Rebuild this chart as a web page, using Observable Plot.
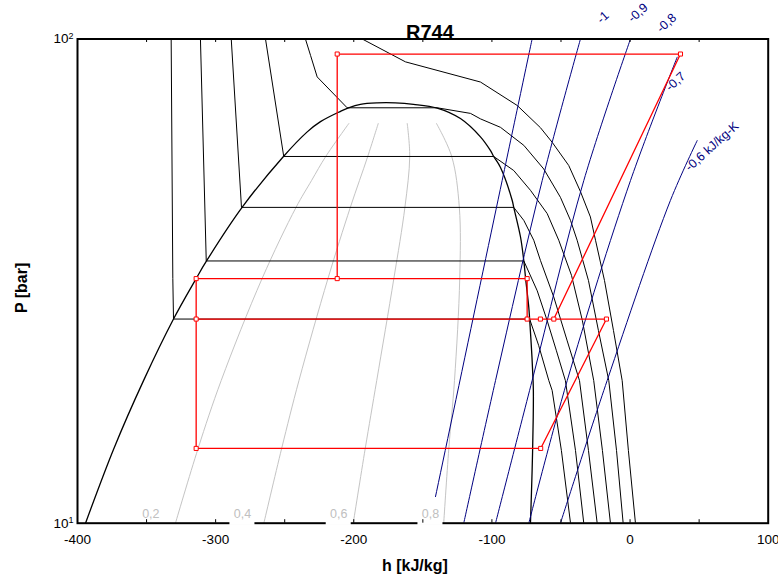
<!DOCTYPE html>
<html><head><meta charset="utf-8">
<script src="https://cdn.jsdelivr.net/npm/d3@7"></script>
<script src="https://cdn.jsdelivr.net/npm/@observablehq/plot@0.6"></script>
<style>body{margin:0;background:#fff}</style>
</head><body><div id="chart"></div>
<script>
// ---- axis ticks ----
const hTicks = [-400, -300, -200, -100, 0, 100];
const hMinorTicks = [-350, -300, -250, -200, -150, -100, -50, 0, 50];
const pTicks = [10, 100];
const pTickBase = "10";
const pTickExponents = ["1", "2"];

// ---- saturation dome [h kJ/kg, P bar] ----
const dome = [[-394.2,10],[-373.5,14.3],[-352.2,19.7],[-330.5,26.4],[-314.1,32.0],[-306.6,34.8],[-280.6,45.0],[-250.9,57.2],[-233.7,64.3],[-224.1,67.5],[-209.6,70.9],[-203.8,72.1],[-195.2,73.3],[-183,73.8],[-170,73.8],[-156.8,73.3],[-139.6,72.0],[-122.8,68.5],[-108.3,62.8],[-101.0,58.8],[-98.7,57.2],[-93.8,54.3],[-85.3,46.4],[-84.2,44.9],[-79.3,39.0],[-76.9,34.8],[-75.6,32.0],[-73.3,27.9],[-72.7,26.4],[-71.0,22.0],[-70.2,19.7],[-70.0,18.8],[-70.1,16.5],[-70.9,12.85],[-72.1,10]];

// ---- isotherms ----
const isoTempNames = ["-10", "0", "10", "20", "30", "40"];
const isoM10 = [[-332.2,100],[-331.0,32.0],[-330.5,26.4],[-72.7,26.4],[-66.2,23.3],[-58.8,19.7],[-56.4,18.8],[-49.7,14.13],[-43.1,10]];
const iso0 = [[-311.0,100],[-306.8,34.8],[-76.9,34.8],[-67.2,30.2],[-60.0,26.2],[-53.3,22.7],[-46.8,19.7],[-39.5,14.13],[-33.5,10]];
const iso10 = [[-288.7,100],[-281.3,44.9],[-84.2,44.9],[-76.9,42.2],[-69.7,38.4],[-64.9,34.9],[-55.2,29.3],[-45.5,23.8],[-36.6,19.7],[-30.1,14.13],[-23.8,10]];
const iso20 = [[-263.9,100],[-250.7,57.2],[-98.7,57.2],[-84.2,53.5],[-72.1,48.7],[-60.0,43.6],[-51.6,38.4],[-42.4,32.5],[-34.5,26.2],[-26.3,19.7],[-20.0,14.13],[-14.2,10]];
const iso30 = [[-235.0,100],[-231.3,92.5],[-226.5,83.5],[-204.8,72.1],[-139.6,72.1],[-115.5,70.2],[-108.3,68.4],[-93.8,65.7],[-76.9,60.3],[-62.5,53.9],[-50.4,47.1],[-43.1,42.2],[-38.3,38.4],[-30.1,31.7],[-22.9,25.0],[-15.4,19.7],[-9.8,14.13],[-5.0,10]];
const iso40 = [[-193.9,100],[-162.6,89.7],[-108.3,81.5],[-81.7,72.9],[-64.9,65.6],[-56.4,61.2],[-44.4,54.8],[-35.9,48.4],[-28.7,42.9],[-25.0,38.4],[-18.5,31.7],[-12.0,25.0],[-5.7,19.7],[-1.2,14.13],[3.9,10]];

// ---- quality lines ----
const qualNames = ["0.2", "0.4", "0.6", "0.8"];
const q02 = [[-203.6,66.9],[-220.3,57.2],[-230.6,51.0],[-241.8,44.9],[-266.4,32.0],[-296.0,19.7],[-312.7,14.27],[-329.1,10]];
const q04 = [[-182.3,66.9],[-189.9,57.2],[-202.5,44.9],[-218.7,32.0],[-239.7,19.7],[-252.2,14.27],[-265.1,10]];
const q06 = [[-161.3,66.9],[-159.5,57.2],[-163.0,44.9],[-171.0,32.0],[-183.4,19.7],[-191.7,14.27],[-200.4,10]];
const q08 = [[-140.1,66.9],[-129.1,57.2],[-123.6,44.9],[-123.3,32.0],[-127.1,19.7],[-131.2,14.27],[-134.9,10]];
const qualLabels = ["0,2", "0,4", "0,6", "0,8"];
const qualLabelH = [-346.9, -280.6, -210.9, -144.5];
const qualLabelP = [10.45, 10.45, 10.45, 10.45];

// ---- isentropes ----
const isenNames = ["-1", "-0.9", "-0.8", "-0.7", "-0.6"];
const sM10 = [[-144.9,10],[-92.6,51.0],[-70.9,100]];
const sM09 = [[-120.4,10],[-97.4,19.7],[-63.6,51.0],[-35.9,100]];
const sM08 = [[-97.4,10],[-70.9,19.7],[-33.5,51.0],[0.3,100]];
const sM07 = [[-73.3,10],[-45.5,19.7],[0.3,51.0],[34.1,91.7]];
const sM06 = [[-50.4,10],[-16.6,19.7],[29.2,46.4],[48.6,61.7]];
const isenLabels = ["-1", "-0,9", "-0,8", "-0,7", "-0,6 kJ/kg-K"];
const isenLabelH = [-19.6, 5.7, 26.4, 32.9, 59.3];
const isenLabelP = [110.8, 113.2, 107.9, 81.7, 60.0];

// ---- cycle ----
const cycleA = [[-314.1,14.27],[-314.1,32.0],[-74.5,32.0],[-74.5,26.4]];
const cycleB = [[-212.0,32.0],[-212.0,93.1],[36.5,93.1],[-55.2,26.4]];
const cycleC = [[-314.1,26.4],[-17.1,26.4],[-64.7,14.27],[-314.1,14.27]];
const cyclePoints = [[-314.1,32.0],[-212.0,32.0],[-74.5,32.0],[-314.1,26.4],[-74.5,26.4],[-64.9,26.4],[-55.2,26.4],[-17.1,26.4],[-314.1,14.27],[-64.7,14.27],[-212.0,93.1],[36.5,93.1]];

// ---- build tables ----
const rows = (arr, key) => arr.map(([h, p]) => ({h, p, key}));
const isoRows = [isoM10, iso0, iso10, iso20, iso30, iso40].flatMap((a, i) => rows(a, isoTempNames[i]));
const qualRows = [q02, q04, q06, q08].flatMap((a, i) => rows(a, qualNames[i]));
const isenRows = [sM10, sM09, sM08, sM07, sM06].flatMap((a, i) => rows(a, isenNames[i]));
const cycleRows = [cycleA, cycleB, cycleC].flatMap((a, i) => rows(a, "c" + i));
const domeRows = rows(dome, "dome");
const pointRows = rows(cyclePoints, "pt");
const qualLabelRows = qualLabels.map((label, i) => ({label, h: qualLabelH[i], p: qualLabelP[i]}));
const isenLabelRows = isenLabels.map((label, i) => ({label, h: isenLabelH[i], p: isenLabelP[i]}));

const W = 778, H = 585, mL = 77, mR = 10.3, mT = 38.5, mB = 62.3;
const fh = H - mT - mB;

const chart = Plot.plot({
  width: W, height: H,
  marginLeft: mL, marginRight: mR, marginTop: mT, marginBottom: mB,
  x: {domain: [-400, 100]},
  y: {type: "log", domain: [10, 100]},
  style: {fontFamily: "'Liberation Sans', Arial, sans-serif", fontSize: "13px", background: "white", overflow: "visible"},
  marks: [
    Plot.line(qualRows, {x: "h", y: "p", z: "key", stroke: "#c4c4c4", strokeWidth: 1, curve: "catmull-rom"}),
    Plot.line(isoRows, {x: "h", y: "p", z: "key", stroke: "black", strokeWidth: 1, clip: true}),
    Plot.line(domeRows, {x: "h", y: "p", stroke: "black", strokeWidth: 1.3, curve: "catmull-rom"}),
    Plot.line(isenRows, {x: "h", y: "p", z: "key", stroke: "#000080", strokeWidth: 1, curve: "catmull-rom", clip: true}),
    Plot.line(cycleRows, {x: "h", y: "p", z: "key", stroke: "#ff0000", strokeWidth: 1.3}),
    Plot.dot(pointRows, {x: "h", y: "p", symbol: "square", r: 2.3, stroke: "#ff0000", fill: "white", strokeWidth: 1}),
    Plot.frame({stroke: "black", strokeWidth: 2}),
    Plot.rect(qualLabelRows.slice(1), {x1: "h", x2: "h", y1: "p", y2: "p", fill: "white", insetLeft: -12.5, insetRight: -12.5, insetTop: -16.5, insetBottom: -11.5}),
    Plot.text(qualLabelRows, {x: "h", y: "p", text: "label", fill: "#c0c0c0", fontSize: 12.5}),
    Plot.text(isenLabelRows, {x: "h", y: "p", text: "label", fill: "#000080", fontSize: 12.5, rotate: -42}),
    Plot.tickX(hMinorTicks, {x: d => d, insetTop: fh - 3.5, stroke: "black"}),
    Plot.tickX(hMinorTicks, {x: d => d, insetBottom: fh - 3.5, stroke: "black"}),
    Plot.axisX({ticks: hTicks, tickSize: 0, tickPadding: 11, tickFormat: d => String(d), label: null}),
    Plot.axisY({ticks: pTicks, tickSize: 0, tickPadding: 4, tickFormat: d => pTickBase, label: null}),
    Plot.text(["R744"], {text: d => d, frameAnchor: "top", lineAnchor: "bottom", dx: 7, dy: -0.5, fontSize: 20, fontWeight: "bold"}),
    Plot.text(["h [kJ/kg]"], {text: d => d, frameAnchor: "bottom", dx: -8, dy: 47.5, fontSize: 16, fontWeight: "bold"}),
    Plot.text(["P [bar]"], {text: d => d, frameAnchor: "left", dx: -56, dy: 32, rotate: -90, fontSize: 16, fontWeight: "bold"})
  ]
});
// tick label font size and superscript exponents on the y tick labels
d3.select(chart).selectAll('g[aria-label="x-axis tick label"], g[aria-label="y-axis tick label"]')
  .attr("font-size", null).style("font-size", "13.5px");
d3.select(chart).selectAll('g[aria-label="y-axis tick label"] text').each(function(d, i) {
  const t = d3.select(this);
  const v = t.datum();
  const idx = pTicks.indexOf(v) >= 0 ? pTicks.indexOf(v) : i;
  t.append("tspan").attr("dy", "-0.45em").style("font-size", "9px").text(pTickExponents[idx]);
});
document.getElementById("chart").appendChild(chart);
</script>
</body></html>
